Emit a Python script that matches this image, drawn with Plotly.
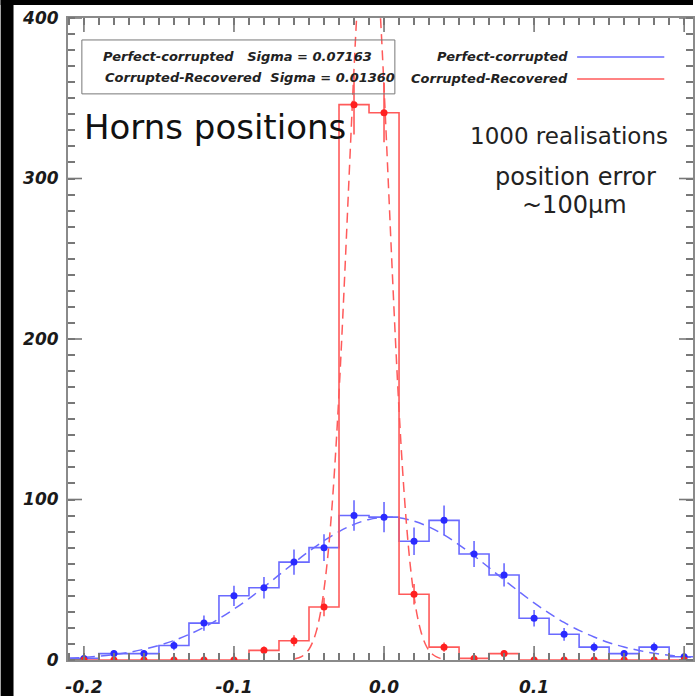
import numpy as np
import plotly.graph_objects as go

# ---------------- data ----------------
bin_centers = [-0.20, -0.18, -0.16, -0.14, -0.12, -0.10, -0.08, -0.06, -0.04, -0.02,
               0.00, 0.02, 0.04, 0.06, 0.08, 0.10, 0.12, 0.14, 0.16, 0.18, 0.20]
bin_width = 0.02
blue_counts = [1, 4, 4, 9, 23, 40, 45, 61, 70, 90, 89, 74, 87, 66, 53, 26, 16, 8, 4, 8, 2]
red_counts = [0, 0, 0, 0, 0, 0, 6, 12, 33, 346, 341, 41, 8, 1, 4, 0, 0, 0, 0, 0, 0]

# dashed fitted curves
blue_fit_x = [-0.21, -0.20, -0.19, -0.18, -0.17, -0.16, -0.15, -0.14, -0.13, -0.12, -0.11,
              -0.10, -0.09, -0.08, -0.07, -0.06, -0.05, -0.04, -0.03, -0.02, -0.01, 0.00,
              0.01, 0.02, 0.03, 0.04, 0.05, 0.06, 0.07, 0.08, 0.09, 0.10, 0.11, 0.12,
              0.13, 0.14, 0.15, 0.16, 0.17, 0.18, 0.19, 0.20, 0.21]
blue_fit_y = [1.1, 1.6, 2.4, 3.4, 4.8, 6.7, 9.1, 12.1, 15.9, 20.4, 25.7,
              31.7, 38.3, 45.5, 53.0, 60.5, 67.7, 74.3, 80.0, 84.5, 87.6, 88.9,
              88.6, 86.5, 82.9, 77.9, 71.8, 64.9, 57.5, 49.9, 42.6, 35.6, 29.2, 23.4,
              18.5, 14.3, 10.8, 8.1, 5.9, 4.2, 2.9, 2.0, 1.4]
red_fit_x = [-0.0600, -0.0575, -0.0550, -0.0525, -0.0500, -0.0475, -0.0450, -0.0425,
             -0.0400, -0.0375, -0.0350, -0.0325, -0.0300, -0.0275, -0.0250, -0.0225,
             -0.0200, -0.0175, -0.0150, -0.0125, -0.0100, -0.0075, -0.0050, -0.0025,
             0.0000, 0.0025, 0.0050, 0.0075, 0.0100, 0.0125, 0.0150, 0.0175, 0.0200,
             0.0225, 0.0250, 0.0275, 0.0300, 0.0325, 0.0350, 0.0375, 0.0400]
red_fit_y = [0.6, 1.2, 2.1, 3.9, 6.7, 11.3, 18.3, 28.8,
             43.8, 64.3, 91.3, 125.4, 166.4, 213.5, 264.9, 317.6,
             368.3, 412.9, 447.5, 468.8, 474.9, 465.0, 440.3, 402.9,
             356.6, 305.0, 252.3, 201.7, 155.9, 116.5, 84.2, 58.8, 39.7,
             25.9, 16.4, 10.0, 5.9, 3.4, 1.9, 1.0, 0.5]

x_tickvals = [-0.2, -0.1, 0.0, 0.1, 0.2]
x_ticktext = ["-0.2", "-0.1", "0.0", "0.1", "0.2"]
y_tickvals = [0, 100, 200, 300, 400]
y_ticktext = ["0", "100", "200", "300", "400"]

sigma_blue = "0.07163"
sigma_red = "0.01360"
name_blue = "Perfect-corrupted"
name_red = "Corrupted-Recovered"

# ---------------- layout geometry ----------------
W, H = 699, 697
L, T, R, B = 68, 18, 0, 36
PW, PH = W - L - R, H - T - B


def px(x):
    return (x - L) / PW


def py(y):
    return (H - B - y) / PH


BLUE_LINE = "#6a6aff"
BLUE_MARK = "#2a2aff"
RED_LINE = "#ff5a5a"
RED_MARK = "#ff2020"
AXIS = "#8a8a8a"
TICK = "#787878"
CLEAR = "rgba(0,0,0,0)"


def step_xy(centers, values, width):
    xs = [centers[0] - width / 2] + list(centers) + [centers[-1] + width / 2]
    ys = [values[0]] + list(values) + [values[-1]]
    return xs, ys


fig = go.Figure()

for counts, lc, mc, fx, fy in [
    (blue_counts, BLUE_LINE, BLUE_MARK, blue_fit_x, blue_fit_y),
    (red_counts, RED_LINE, RED_MARK, red_fit_x, red_fit_y),
]:
    sx, sy = step_xy(bin_centers, counts, bin_width)
    fig.add_trace(go.Scatter(x=fx, y=fy, mode="lines", line_shape="spline",
                             line=dict(color=lc, width=1.5, dash="10px,6px"),
                             showlegend=False, hoverinfo="skip"))
    fig.add_trace(go.Scatter(x=sx, y=sy, mode="lines", line_shape="hvh",
                             line=dict(color=lc, width=1.6), showlegend=False))
    fig.add_trace(go.Scatter(x=bin_centers, y=counts, mode="markers",
                             marker=dict(color=mc, size=7),
                             error_y=dict(type="data", array=np.sqrt(counts), width=0,
                                          thickness=1.6, color=lc),
                             showlegend=False))

x_minor = [round(v, 2) for v in np.arange(-0.21, 0.2101, 0.01)]
y_minor = list(range(0, 401, 10))
tickfont = dict(family="DejaVu Sans", size=17, color="#1a1a1a", weight="bold", style="italic")

# major ticks are transparent "outside" ticks (they only set the label offset);
# the visible inward ticks are the minor ticks plus long major tick shapes below
axis_common = dict(showgrid=False, zeroline=False, showline=True, linecolor=AXIS,
                   linewidth=2, mirror="ticks", ticks="outside",
                   tickcolor=CLEAR, tickwidth=1, tickfont=tickfont)

fig.update_xaxes(range=[-0.2106, 0.2059], tickmode="array", tickvals=x_tickvals,
                 ticktext=x_ticktext, ticklen=11,
                 minor=dict(tickmode="array", tickvals=x_minor, ticks="inside",
                            ticklen=7, tickcolor=TICK, tickwidth=1.5, showgrid=False),
                 **axis_common)
fig.update_yaxes(range=[0, 400], tickmode="array", tickvals=y_tickvals,
                 ticktext=y_ticktext, ticklen=4,
                 minor=dict(tickmode="array", tickvals=y_minor, ticks="inside",
                            ticklen=7, tickcolor=TICK, tickwidth=1.5, showgrid=False),
                 **axis_common)

shapes = [
    # black frame bands of the picture
    dict(type="rect", xref="paper", yref="paper", x0=px(0), x1=px(13), y0=py(H), y1=py(0),
         fillcolor="black", line=dict(width=0), layer="above"),
    dict(type="rect", xref="paper", yref="paper", x0=px(0), x1=px(W), y0=py(5), y1=py(0),
         fillcolor="black", line=dict(width=0), layer="above"),
    # boxed legend
    dict(type="rect", xref="paper", yref="paper", x0=px(82), x1=px(398), y0=py(94), y1=py(40),
         line=dict(color="#777777", width=1), fillcolor=CLEAR),
    # line legend samples
    dict(type="line", xref="paper", yref="paper", x0=px(582), x1=px(670), y0=py(57), y1=py(57),
         line=dict(color=BLUE_LINE, width=1.5)),
    dict(type="line", xref="paper", yref="paper", x0=px(582), x1=px(670), y0=py(79), y1=py(79),
         line=dict(color=RED_LINE, width=1.5)),
]

MAJ = 14
tick_line = dict(color=TICK, width=1.6)
for v in x_tickvals:
    for anchor, sgn in [(0, 1), (1, -1)]:
        shapes.append(dict(type="line", xref="x", yref="paper", ysizemode="pixel",
                           yanchor=anchor, x0=v, x1=v, y0=0, y1=sgn * MAJ,
                           line=tick_line, layer="above"))
for v in y_tickvals:
    for anchor, sgn in [(0, 1), (1, -1)]:
        shapes.append(dict(type="line", xref="paper", yref="y", xsizemode="pixel",
                           xanchor=anchor, x0=0, x1=sgn * MAJ, y0=v, y1=v,
                           line=tick_line, layer="above"))

leg_font = dict(family="DejaVu Sans", size=13, color="#222222", weight="bold", style="italic")
annotations = [
    dict(x=px(101), y=py(57), xref="paper", yref="paper", xanchor="left", yanchor="middle",
         text=f"{name_blue}   Sigma = {sigma_blue}", showarrow=False, font=leg_font),
    dict(x=px(103), y=py(78), xref="paper", yref="paper", xanchor="left", yanchor="middle",
         text=f"{name_red}  Sigma = {sigma_red}", showarrow=False, font=leg_font),
    dict(x=px(575), y=py(57), xref="paper", yref="paper", xanchor="right", yanchor="middle",
         text=name_blue, showarrow=False, font=leg_font),
    dict(x=px(575), y=py(79), xref="paper", yref="paper", xanchor="right", yanchor="middle",
         text=name_red, showarrow=False, font=leg_font),
    dict(x=px(82), y=py(127), xref="paper", yref="paper", xanchor="left", yanchor="middle",
         text="Horns positions", showarrow=False,
         font=dict(family="DejaVu Sans", size=34, color="#111111")),
    dict(x=px(574), y=py(136), xref="paper", yref="paper", xanchor="center", yanchor="middle",
         text="1000 realisations", showarrow=False,
         font=dict(family="DejaVu Sans", size=23, color="#222222")),
    dict(x=px(580), y=py(177), xref="paper", yref="paper", xanchor="center", yanchor="middle",
         text="position error", showarrow=False,
         font=dict(family="DejaVu Sans", size=24, color="#222222")),
    dict(x=px(579), y=py(205), xref="paper", yref="paper", xanchor="center", yanchor="middle",
         text="~100µm", showarrow=False,
         font=dict(family="DejaVu Sans", size=24, color="#222222")),
]

fig.update_layout(width=W, height=H, margin=dict(l=L, r=R, t=T, b=B),
                  paper_bgcolor="white", plot_bgcolor="white",
                  shapes=shapes, annotations=annotations, showlegend=False)

fig.write_html("out.html", config={"displayModeBar": False},
               post_script="document.body.style.margin='0';document.body.style.overflow='hidden';")
